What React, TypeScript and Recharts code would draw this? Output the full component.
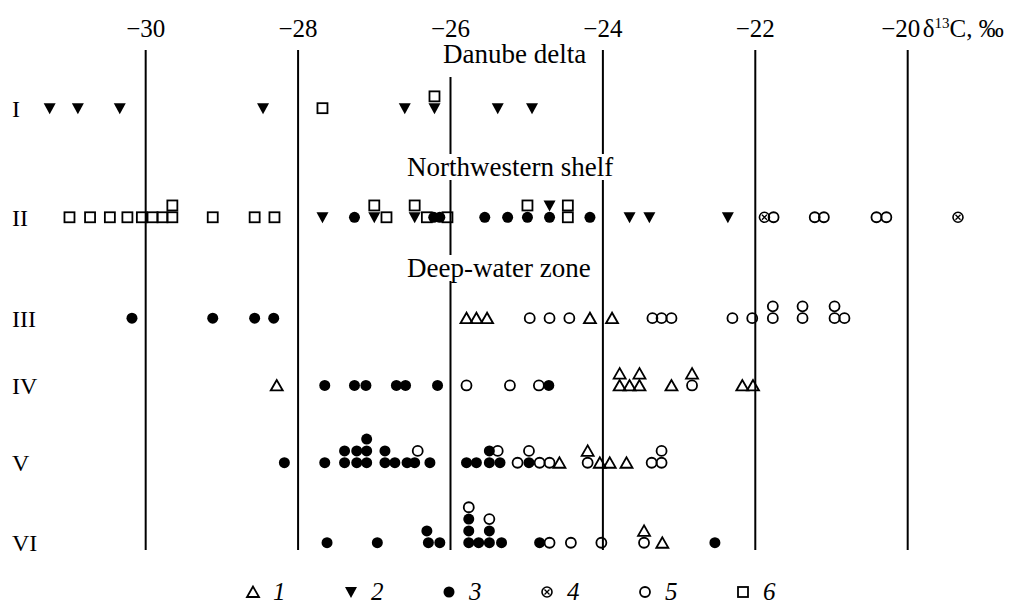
import { ScatterChart, Scatter, XAxis, YAxis, ReferenceLine } from "recharts";

const X_TICKS = [-30, -28, -26, -24, -22, -20];
const ROWS = ["I", "II", "III", "IV", "V", "VI"];
const ROW_POS = [1.14, 2.34, 3.45, 4.19, 5.04, 5.92];
const STACK = 0.13;
const LEGEND = ["1", "2", "3", "4", "5", "6"];

// [δ13C, row (1..6), stack level]
const type1 = [
  [-25.79, 3, 0], [-25.66, 3, 0], [-25.52, 3, 0], [-24.17, 3, 0], [-23.88, 3, 0],
  [-28.28, 4, 0], [-23.78, 4, 0], [-23.78, 4, 1], [-23.65, 4, 0], [-23.52, 4, 0], [-23.52, 4, 1],
  [-23.1, 4, 0], [-22.83, 4, 1], [-22.17, 4, 0], [-22.03, 4, 0],
  [-24.57, 5, 0], [-24.2, 5, 1], [-24.04, 5, 0], [-23.91, 5, 0], [-23.69, 5, 0],
  [-23.46, 6, 1], [-23.22, 6, 0],
];

const type2 = [
  [-31.26, 1, 0], [-30.89, 1, 0], [-30.34, 1, 0], [-28.46, 1, 0], [-26.6, 1, 0], [-26.21, 1, 0],
  [-25.38, 1, 0], [-24.93, 1, 0],
  [-27.68, 2, 0], [-27.0, 2, 0], [-26.47, 2, 0], [-24.7, 2, 1], [-23.65, 2, 0], [-23.39, 2, 0], [-22.36, 2, 0],
];

const type3 = [
  [-27.26, 2, 0], [-26.22, 2, 0], [-26.14, 2, 0], [-25.55, 2, 0], [-25.25, 2, 0], [-24.99, 2, 0],
  [-24.7, 2, 0], [-24.17, 2, 0],
  [-30.18, 3, 0], [-29.12, 3, 0], [-28.57, 3, 0], [-28.32, 3, 0],
  [-27.65, 4, 0], [-27.26, 4, 0], [-27.11, 4, 0], [-26.71, 4, 0], [-26.59, 4, 0], [-26.17, 4, 0], [-24.71, 4, 0],
  [-28.18, 5, 0], [-27.65, 5, 0], [-27.39, 5, 0], [-27.39, 5, 1], [-27.23, 5, 0], [-27.23, 5, 1],
  [-27.1, 5, 0], [-27.1, 5, 1], [-27.1, 5, 2], [-26.86, 5, 0], [-26.86, 5, 1], [-26.73, 5, 0],
  [-26.57, 5, 0], [-26.47, 5, 0], [-26.27, 5, 0], [-25.79, 5, 0], [-25.66, 5, 0], [-25.49, 5, 0],
  [-25.49, 5, 1], [-25.35, 5, 0], [-24.97, 5, 0],
  [-27.62, 6, 0], [-26.96, 6, 0], [-26.31, 6, 1], [-26.29, 6, 0], [-26.14, 6, 0],
  [-25.76, 6, 0], [-25.76, 6, 1], [-25.76, 6, 2], [-25.63, 6, 0], [-25.49, 6, 0], [-25.49, 6, 1],
  [-25.33, 6, 0], [-24.83, 6, 0], [-22.53, 6, 0],
];

const type4 = [[-21.88, 2, 0], [-19.34, 2, 0]];

const type5 = [
  [-21.76, 2, 0], [-21.22, 2, 0], [-21.1, 2, 0], [-20.41, 2, 0], [-20.28, 2, 0],
  [-24.96, 3, 0], [-24.7, 3, 0], [-24.44, 3, 0], [-23.35, 3, 0], [-23.23, 3, 0], [-23.1, 3, 0],
  [-22.3, 3, 0], [-22.04, 3, 0], [-21.77, 3, 0], [-21.77, 3, 1], [-21.38, 3, 0], [-21.38, 3, 1],
  [-20.96, 3, 0], [-20.96, 3, 1], [-20.83, 3, 0],
  [-25.79, 4, 0], [-25.22, 4, 0], [-24.84, 4, 0], [-22.83, 4, 0],
  [-26.43, 5, 1], [-25.38, 5, 1], [-25.12, 5, 0], [-24.97, 5, 1], [-24.83, 5, 0], [-24.7, 5, 0],
  [-24.2, 5, 0], [-23.36, 5, 0], [-23.23, 5, 0], [-23.23, 5, 1],
  [-25.76, 6, 3], [-25.49, 6, 2], [-24.7, 6, 0], [-24.42, 6, 0], [-24.02, 6, 0], [-23.46, 6, 0],
];

const type6 = [
  [-27.68, 1, 0], [-26.21, 1, 1],
  [-31.0, 2, 0], [-30.73, 2, 0], [-30.47, 2, 0], [-30.24, 2, 0], [-30.05, 2, 0], [-29.91, 2, 0],
  [-29.78, 2, 0], [-29.65, 2, 0], [-29.65, 2, 1], [-29.12, 2, 0], [-28.57, 2, 0], [-28.31, 2, 0],
  [-27.0, 2, 1], [-26.84, 2, 0], [-26.47, 2, 1], [-26.31, 2, 0], [-26.04, 2, 0],
  [-24.99, 2, 1], [-24.46, 2, 0], [-24.46, 2, 1],
];

const FONT = "'Liberation Serif', 'DejaVu Serif', serif";

const toPoints = (list: number[][]) =>
  list.map(([d, row, lvl]) => ({ x: d, y: ROW_POS[row - 1] - lvl * STACK }));

const drawSymbol = (kind: number, cx: number, cy: number) => {
  switch (kind) {
    case 1:
      return <polygon points={`${cx},${cy - 5.5} ${cx - 6},${cy + 5} ${cx + 6},${cy + 5}`} fill="none" stroke="#000" strokeWidth={1.8} />;
    case 2:
      return <polygon points={`${cx - 6},${cy - 5} ${cx + 6},${cy - 5} ${cx},${cy + 6}`} fill="#000" />;
    case 3:
      return <circle cx={cx} cy={cy} r={5.5} fill="#000" />;
    case 4:
      return (
        <g>
          <circle cx={cx} cy={cy} r={5} fill="#fff" stroke="#000" strokeWidth={1.6} />
          <path d={`M${cx - 2.5},${cy - 2.5}L${cx + 2.5},${cy + 2.5}M${cx + 2.5},${cy - 2.5}L${cx - 2.5},${cy + 2.5}`} stroke="#000" strokeWidth={1.3} />
        </g>
      );
    case 5:
      return <circle cx={cx} cy={cy} r={5} fill="none" stroke="#000" strokeWidth={1.8} />;
    default:
      return <rect x={cx - 5} y={cy - 5} width={10} height={10} fill="none" stroke="#000" strokeWidth={1.8} />;
  }
};

const SERIES = [
  { kind: 3, data: type3 },
  { kind: 2, data: type2 },
  { kind: 1, data: type1 },
  { kind: 4, data: type4 },
  { kind: 5, data: type5 },
  { kind: 6, data: type6 },
];

const TopTick = (props: any) => {
  const { x, y, payload } = props;
  const label = payload.value < 0 ? `−${Math.abs(payload.value)}` : `${payload.value}`;
  if (payload.value === -20) {
    return (
      <g fontFamily={FONT} fontSize={25} fill="#000">
        <text x={x - 7} y={y} textAnchor="middle">{label}</text>
        <text x={x + 15} y={y} textAnchor="start">
          δ<tspan dy={-9} fontSize={15}>13</tspan><tspan dy={9}>C, ‰</tspan>
        </text>
      </g>
    );
  }
  return (
    <text x={x} y={y} textAnchor="middle" fontFamily={FONT} fontSize={25} fill="#000">{label}</text>
  );
};

const RowTick = (props: any) => {
  const { x, y, index } = props;
  return (
    <text x={x} y={y} dy="0.35em" textAnchor="start" fontFamily={FONT} fontSize={24} fill="#000">
      {ROWS[index]}
    </text>
  );
};

const sectionStyle = {
  position: "absolute" as const,
  background: "#fff",
  fontFamily: FONT,
  fontSize: 27,
  lineHeight: "26px",
  padding: "0 2px",
  whiteSpace: "nowrap" as const,
};

export default function App() {
  return (
    <div style={{ position: "absolute", left: 0, top: 0, width: 1036, height: 604, background: "#fff" }}>
      <ScatterChart width={1036} height={604} margin={{ top: 0, right: 14, bottom: 54, left: 0 }}>
        <XAxis
          type="number"
          dataKey="x"
          orientation="top"
          domain={[-31.4, -18.5]}
          ticks={X_TICKS}
          height={50}
          axisLine={false}
          tickLine={false}
          tickSize={0}
          tickMargin={13}
          tick={<TopTick />}
          allowDataOverflow
        />
        <YAxis
          type="number"
          dataKey="y"
          domain={[0.5, 6]}
          reversed
          ticks={ROW_POS}
          width={39}
          axisLine={false}
          tickLine={false}
          tickSize={0}
          tickMargin={27}
          tick={<RowTick />}
          allowDataOverflow
        />
        {X_TICKS.map((v) => (
          <ReferenceLine key={v} x={v} stroke="#000" strokeWidth={2} />
        ))}
        {SERIES.map((s) => (
          <Scatter
            key={s.kind}
            data={toPoints(s.data)}
            isAnimationActive={false}
            shape={(p: any) => drawSymbol(s.kind, p.cx, p.cy)}
          />
        ))}
      </ScatterChart>
      <div style={{ ...sectionStyle, left: 441, top: 41, paddingBottom: 10 }}>Danube delta</div>
      <div style={{ ...sectionStyle, left: 405, top: 154 }}>Northwestern shelf</div>
      <div style={{ ...sectionStyle, left: 405, top: 255 }}>Deep-water zone</div>
      <div style={{ position: "absolute", left: 245, top: 578, display: "flex", fontFamily: FONT, fontSize: 25 }}>
        {LEGEND.map((t, i) => (
          <div key={t} style={{ width: 98, display: "flex", alignItems: "center" }}>
            <svg width={16} height={16}>{drawSymbol(i + 1, 8, 8)}</svg>
            <span style={{ fontStyle: "italic", marginLeft: 12 }}>{t}</span>
          </div>
        ))}
      </div>
    </div>
  );
}
